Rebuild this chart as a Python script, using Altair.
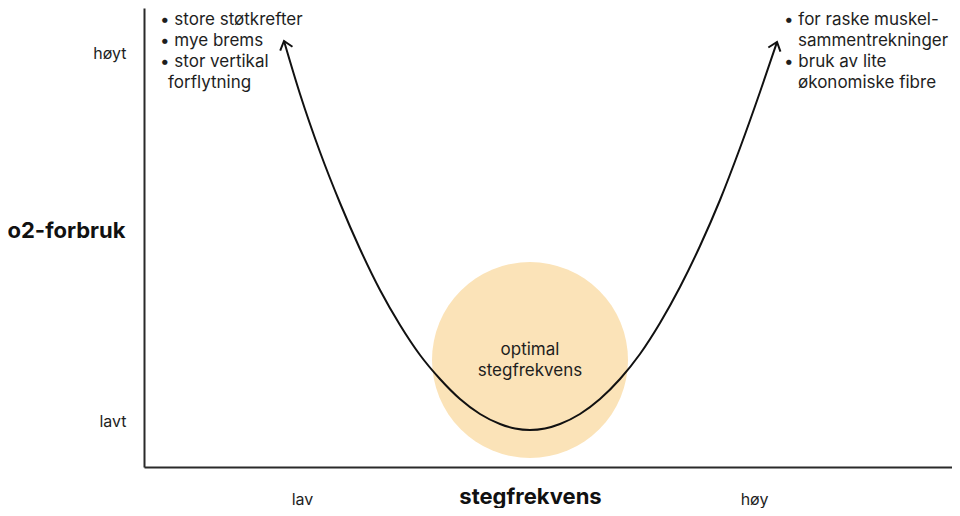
import altair as alt
import pandas as pd

# ---- data (conceptual units: x 0-808, y 0-459) ----
curve_x = [140, 156, 176, 196, 216, 236, 256, 276, 296, 316, 336, 356, 371, 386,
           401, 416, 436, 456, 476, 496, 516, 536, 556, 576, 596, 616, 633]
curve_y = [426, 373, 315, 264, 218, 177, 142, 112, 88, 68, 53, 43, 38.5, 37,
           38.5, 43, 53, 68, 88, 113, 144, 180, 221, 267, 319, 375, 425]

arrow_x = [140, 633]
arrow_y = [426, 425]
arrow_angle = [343, 19]

zone_x = [386]
zone_y = [107]

zone_text = ["optimal", "stegfrekvens"]
zone_text_x = [386, 386]
zone_text_y = [117, 96]

note_text = ["• store støtkrefter", "• mye brems", "• stor vertikal", "forflytning",
             "• for raske muskel-", "sammentrekninger", "• bruk av lite", "økonomiske fibre"]
note_x = [16, 16, 16, 24, 640, 654, 640, 654]
note_y = [447, 426, 405, 384, 447, 426, 405, 384]

x_ticks = [158, 610]
x_tick_labels = ["lav", "høy"]
y_ticks = [46, 414]
y_tick_labels = ["lavt", "høyt"]

FONT = "Inter"
INK = "#1e1e1e"

curve_df = pd.DataFrame({"x": curve_x, "y": curve_y})
arrow_df = pd.DataFrame({"x": arrow_x, "y": arrow_y, "a": arrow_angle})
zone_df = pd.DataFrame({"x": zone_x, "y": zone_y})
zone_text_df = pd.DataFrame({"x": zone_text_x, "y": zone_text_y, "t": zone_text})
note_df = pd.DataFrame({"x": note_x, "y": note_y, "t": note_text})


def label_expr(vals, labels):
    parts = [f"abs(datum.value - {v}) < 0.01 ? '{l}'" for v, l in zip(vals, labels)]
    return " : ".join(parts) + " : ''"


xscale = alt.Scale(domain=[0, 808], nice=False, zero=False)
yscale = alt.Scale(domain=[0, 459], nice=False, zero=False)

x_axis = alt.Axis(
    values=x_ticks, labelExpr=label_expr(x_ticks, x_tick_labels),
    grid=False, ticks=False, tickSize=0, labelPadding=32, labelBaseline="middle",
    labelFont=FONT, labelFontSize=16, labelColor=INK,
    domainColor="#2a2a2a", domainWidth=2,
    title="stegfrekvens", titleFont=FONT, titleFontSize=22, titleFontWeight="bold",
    titleColor="#111111", titleX=386, titleY=29, titleAlign="center", titleBaseline="middle",
)
y_axis = alt.Axis(
    values=y_ticks, labelExpr=label_expr(y_ticks, y_tick_labels),
    grid=False, ticks=False, tickSize=0, labelPadding=18, labelBaseline="middle",
    labelFont=FONT, labelFontSize=16, labelColor=INK,
    domainColor="#2a2a2a", domainWidth=2,
    title="o2-forbruk", titleFont=FONT, titleFontSize=22, titleFontWeight="bold",
    titleColor="#111111", titleAngle=0, titleX=-19, titleY=222, titleAlign="right",
    titleBaseline="middle",
)

zone = alt.Chart(zone_df).mark_circle(size=38416, color="#fbe3b8", opacity=1).encode(
    x=alt.X("x:Q", scale=xscale, axis=x_axis),
    y=alt.Y("y:Q", scale=yscale, axis=y_axis),
)

curve = alt.Chart(curve_df).mark_line(color="#111111", strokeWidth=2, interpolate="monotone").encode(
    x=alt.X("x:Q", scale=xscale),
    y=alt.Y("y:Q", scale=yscale),
)

arrows = alt.Chart(arrow_df).mark_point(
    shape="M-0.8,1L0,0L0.8,1", size=256, filled=False, stroke="#111111", strokeWidth=2, opacity=1
).encode(
    x=alt.X("x:Q", scale=xscale),
    y=alt.Y("y:Q", scale=yscale),
    angle=alt.Angle("a:Q", scale=None),
)

zone_labels = alt.Chart(zone_text_df).mark_text(
    font=FONT, fontSize=17, color=INK, align="center", baseline="middle"
).encode(
    x=alt.X("x:Q", scale=xscale),
    y=alt.Y("y:Q", scale=yscale),
    text="t:N",
)

notes = alt.Chart(note_df).mark_text(
    font=FONT, fontSize=17, color=INK, align="left", baseline="middle"
).encode(
    x=alt.X("x:Q", scale=xscale),
    y=alt.Y("y:Q", scale=yscale),
    text="t:N",
)

chart = alt.layer(zone, curve, arrows, zone_labels, notes).properties(
    width=808, height=459,
    padding={"left": 136, "top": 0, "right": 0, "bottom": 41},
    autosize=alt.AutoSizeParams(type="none"),
    background="white",
).configure_view(stroke=None)

chart.save("out.html", embed_options={"renderer": "svg", "actions": False})
